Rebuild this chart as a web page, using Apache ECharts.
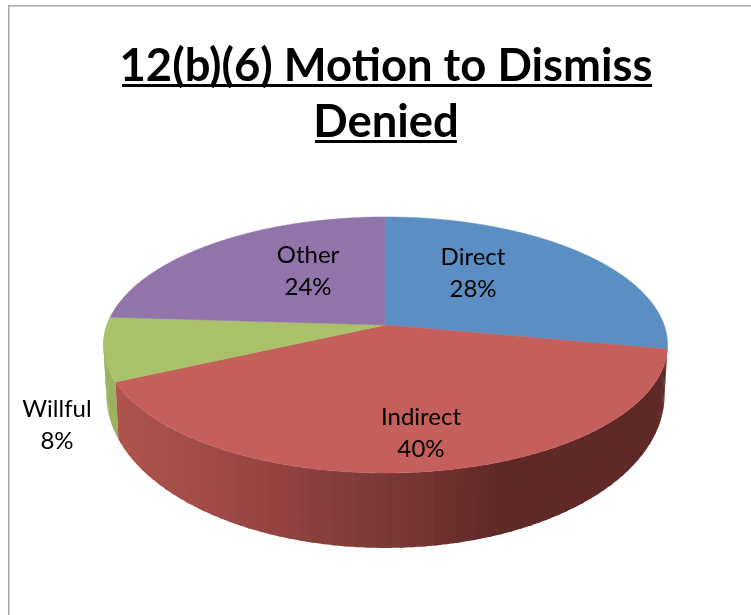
<!DOCTYPE html>
<html>
<head>
<meta charset="utf-8">
<script src="https://cdn.jsdelivr.net/npm/echarts@6/dist/echarts.min.js"></script>
<style>
    html, body { margin: 0; padding: 0; background: #fff; }
    #piechart { width: 751px; height: 615px; }
</style>
</head>
<body>
<div id="piechart"></div>
<script>
    // data
    let categories = ['Direct', 'Indirect', 'Willful', 'Other'];
    let percents = [28, 40, 8, 24];

    let sliceColors = ['#5b8fc3', '#c55f5b', '#a9c26a', '#9175aa'];
    let labelPos = [[473, 273], [421, 433], [57, 425], [308, 271]];

    // perspective circle: top face and bottom face of the disc
    let topFace = { cx: 385.5, cy: 325, r: 278.6, h: 124.9, k: 0.156 };
    let bottomFace = { cx: 385.5, cy: 371, r: 275.6, h: 149.3, k: 0.156 };

    function project(face, deg) {
        let a = deg * Math.PI / 180;
        let u = Math.sin(a), v = -Math.cos(a);
        let s = 1 / (1 - face.k * v);
        return [face.cx + face.r * u * s, face.cy + face.h * v * s];
    }

    // red side gets darker from left to right, flat after the bend
    let redStops = [[-1, [178, 88, 80]], [-0.6, [163, 77, 73]], [-0.3, [147, 66, 63]],
        [0, [123, 58, 56]], [0.2, [110, 48, 46]], [0.36, [94, 41, 39]], [1, [94, 41, 39]]];
    let greenStops = [[-1, [156, 178, 96]], [1, [156, 178, 96]]];

    function sideColor(stops, deg) {
        let u = Math.sin(deg * Math.PI / 180);
        for (let i = 1; i < stops.length; i++) {
            if (u <= stops[i][0]) {
                let t = (u - stops[i - 1][0]) / (stops[i][0] - stops[i - 1][0]);
                let c = stops[i - 1][1].map((val, j) => Math.round(val + (stops[i][1][j] - val) * t));
                return 'rgb(' + c.join(',') + ')';
            }
        }
        return 'rgb(' + stops[stops.length - 1][1].join(',') + ')';
    }

    // start and end angle of every slice
    let total = percents.reduce((a, b) => a + b, 0);
    let slices = [];
    let run = 0;
    percents.forEach((val, i) => {
        slices.push([run / total * 360, (run + val) / total * 360, i]);
        run += val;
    });

    let myChart = echarts.init(document.getElementById('piechart'), null, { renderer: 'canvas' });

    function renderTop(params, api) {
        let start = api.value(0), end = api.value(1), idx = api.value(2);
        let points = [api.coord([topFace.cx, topFace.cy])];
        for (let d = start; d < end; d += 0.5) {
            points.push(api.coord(project(topFace, d)));
        }
        points.push(api.coord(project(topFace, end)));
        return {
            type: 'polygon',
            shape: { points: points },
            style: { fill: sliceColors[idx], stroke: sliceColors[idx], lineWidth: 0.5 }
        };
    }

    function renderSide(params, api) {
        let start = api.value(0), end = api.value(1), idx = api.value(2);
        let stops = idx === 1 ? redStops : greenStops;
        let children = [];
        let step = 2;
        // walk from the far end so each quad is painted over the overlap of the last one
        for (let d = end; d > start; d -= step) {
            let next = Math.max(d - step, start);
            let over = Math.min(d + 0.6, end);
            let color = sideColor(stops, (d + next) / 2);
            let pts = [];
            for (let a = over; a > next; a -= 0.5) {
                pts.push(api.coord(project(topFace, a)));
            }
            pts.push(api.coord(project(topFace, next)));
            pts.push(api.coord(project(bottomFace, next)));
            for (let a = next + 0.5; a < over; a += 0.5) {
                pts.push(api.coord(project(bottomFace, a)));
            }
            pts.push(api.coord(project(bottomFace, over)));
            children.push({
                type: 'polygon',
                shape: { points: pts },
                style: { fill: color }
            });
        }
        return { type: 'group', children: children };
    }

    function renderLabel(params, api) {
        let idx = api.value(2);
        let p = api.coord(labelPos[idx]);
        return {
            type: 'text',
            x: p[0],
            y: p[1],
            style: {
                text: categories[idx] + '\n' + percents[idx] + '%',
                fontFamily: 'Lato',
                fontSize: 24,
                lineHeight: 32,
                fill: '#000',
                align: 'center',
                verticalAlign: 'middle'
            }
        };
    }

    myChart.setOption({
        animation: false,
        title: {
            text: '12(b)(6) Motion to Dismiss\nDenied',
            left: 381,
            top: 33,
            textAlign: 'center',
            textStyle: {
                fontFamily: 'Lato',
                fontWeight: 'bold',
                fontSize: 45.4,
                lineHeight: 56,
                color: '#000'
            }
        },
        grid: { left: 0, right: 0, top: 0, bottom: 0 },
        xAxis: { type: 'value', min: 0, max: 751, show: false },
        yAxis: { type: 'value', min: 0, max: 615, inverse: true, show: false },
        graphic: [
            { type: 'rect', shape: { x: 8, y: 5, width: 743, height: 1.5 }, style: { fill: '#a6a6a6' } },
            { type: 'rect', shape: { x: 8, y: 5, width: 1.5, height: 610 }, style: { fill: '#a6a6a6' } },
            { type: 'rect', shape: { x: 122, y: 84, width: 530, height: 3 }, style: { fill: '#000' } },
            { type: 'rect', shape: { x: 315, y: 140, width: 142, height: 3 }, style: { fill: '#000' } }
        ],
        series: [
            {
                type: 'custom',
                coordinateSystem: 'cartesian2d',
                renderItem: renderSide,
                clip: false,
                silent: true,
                z: 1,
                // only the front faces show: green behind, then red
                data: [slices[2], slices[1]]
            },
            {
                type: 'custom',
                coordinateSystem: 'cartesian2d',
                renderItem: renderTop,
                clip: false,
                silent: true,
                z: 2,
                data: slices
            },
            {
                type: 'custom',
                coordinateSystem: 'cartesian2d',
                renderItem: renderLabel,
                clip: false,
                silent: true,
                z: 3,
                data: slices
            }
        ]
    });
</script>
</body>
</html>
